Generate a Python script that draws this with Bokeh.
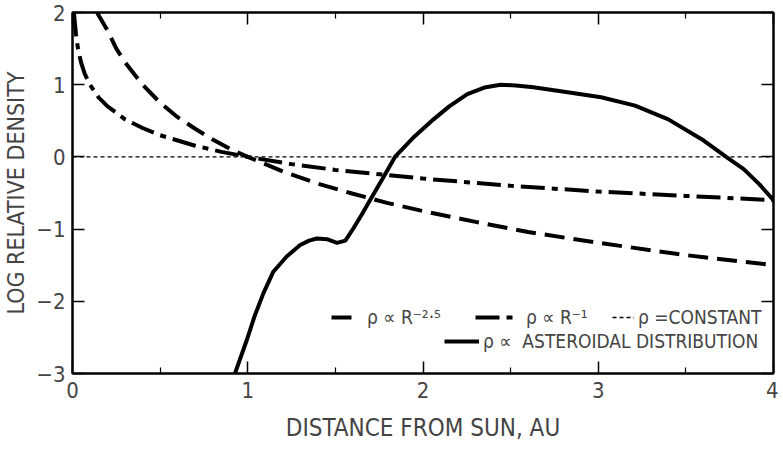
from bokeh.plotting import figure
from bokeh.models import LinearAxis, Legend, LegendItem, Range1d, FixedTicker
from bokeh.embed import file_html
from bokeh.resources import INLINE

# ---- data ----
x_ticks = [0, 1, 2, 3, 4]
x_tick_labels = ["0", "1", "2", "3", "4"]
x_minor = [0.5, 1.5, 2.5, 3.5]
y_ticks = [-3, -2, -1, 0, 1, 2]
y_tick_labels = ["\u22123", "\u22122", "\u22121", "0", "1", "2"]

r25_x = [0.14, 0.2, 0.25, 0.3, 0.4, 0.5, 0.6, 0.7, 0.8, 0.9, 1.0, 1.2, 1.4, 1.6, 1.8,
         2.0, 2.3, 2.6, 3.0, 3.5, 4.0]
r25_y = [2.0, 1.75, 1.5, 1.31, 1.0, 0.75, 0.55, 0.39, 0.24, 0.11, 0.0, -0.2, -0.37, -0.51,
         -0.64, -0.75, -0.9, -1.04, -1.19, -1.36, -1.5]

r1_x = [0.008, 0.015, 0.02, 0.03, 0.04, 0.05, 0.07, 0.1, 0.15, 0.2, 0.3, 0.4, 0.5, 0.7,
        0.85, 1.0, 1.25, 1.5, 2.0, 2.5, 3.0, 3.5, 4.0]
r1_y = [2.0, 1.82, 1.7, 1.52, 1.4, 1.3, 1.15, 1.0, 0.82, 0.7, 0.52, 0.4, 0.3, 0.155,
        0.07, 0.0, -0.1, -0.18, -0.3, -0.4, -0.48, -0.54, -0.6]

const_x = [0.0, 4.0]
const_y = [0.0, 0.0]

ast_x = [0.927, 0.994, 1.04, 1.089, 1.146, 1.222, 1.299, 1.35, 1.394, 1.452, 1.509, 1.557,
         1.604, 1.65, 1.70, 1.77, 1.84, 1.95, 2.06, 2.15, 2.253, 2.35, 2.443, 2.53, 2.63,
         2.825, 3.016, 3.21, 3.40, 3.59, 3.73, 3.83, 3.92, 4.0]
ast_y = [-3.0, -2.54, -2.2, -1.89, -1.59, -1.38, -1.22, -1.16, -1.13, -1.14, -1.19, -1.16,
         -0.985, -0.8, -0.59, -0.3, 0.0, 0.28, 0.52, 0.7, 0.87, 0.96, 1.0, 0.99, 0.965,
         0.895, 0.826, 0.71, 0.52, 0.245, 0.0, -0.17, -0.38, -0.6]

FONT = "'DejaVu Sans Condensed', 'Liberation Sans', sans-serif"

p = figure(width=778, height=447, x_range=Range1d(0, 4), y_range=Range1d(-3, 2),
           output_backend="svg", toolbar_location=None,
           min_border_left=71, min_border_right=5, min_border_top=12, min_border_bottom=74)
p.xgrid.visible = False
p.ygrid.visible = False
p.outline_line_color = "black"
p.outline_line_width = 2
p.background_fill_color = "white"

def style_axis(ax):
    ax.axis_line_width = 2
    ax.major_tick_in = 12
    ax.major_tick_out = 0
    ax.minor_tick_in = 6
    ax.minor_tick_out = 0
    ax.major_tick_line_width = 1.5
    ax.minor_tick_line_width = 1.2

xa = p.xaxis[0]
xa.ticker = FixedTicker(ticks=x_ticks, minor_ticks=x_minor)
xa.major_label_overrides = {t: l for t, l in zip(x_ticks, x_tick_labels)}
style_axis(xa)
xa.major_label_text_font = FONT
xa.major_label_text_font_size = "22px"
xa.major_label_standoff = 8
xa.axis_label = "DISTANCE FROM SUN, AU"
xa.axis_label_text_font = FONT
xa.axis_label_text_font_size = "24px"
xa.axis_label_text_font_style = "normal"
xa.axis_label_standoff = 13

ya = p.yaxis[0]
ya.ticker = FixedTicker(ticks=y_ticks, minor_ticks=[])
ya.major_label_overrides = {t: l for t, l in zip(y_ticks, y_tick_labels)}
style_axis(ya)
ya.major_label_text_font = FONT
ya.major_label_text_font_size = "22px"
ya.major_label_standoff = 7
ya.axis_label = "LOG RELATIVE DENSITY"
ya.axis_label_text_font = FONT
ya.axis_label_text_font_size = "23px"
ya.axis_label_text_font_style = "normal"
ya.axis_label_standoff = 4

top = LinearAxis(ticker=FixedTicker(ticks=x_ticks, minor_ticks=x_minor),
                 major_label_text_font_size="0px", major_label_standoff=0)
style_axis(top)
p.add_layout(top, "above")
right = LinearAxis(ticker=FixedTicker(ticks=y_ticks, minor_ticks=[]),
                   major_label_text_font_size="0px", major_label_standoff=0)
style_axis(right)
p.add_layout(right, "right")

r_const = p.line(const_x, const_y, line_color="black", line_width=1.3, line_dash="4 3")
r_r1 = p.line(r1_x, r1_y, line_color="black", line_width=4, line_dash="24 7 6 7")
r_r25 = p.line(r25_x, r25_y, line_color="black", line_width=4, line_dash="20 9")
r_ast = p.line(ast_x, ast_y, line_color="black", line_width=4)

def make_legend(label, rend, loc, gw, standoff):
    lg = Legend(items=[LegendItem(label=label, renderers=[rend])], location=loc,
                padding=0, margin=0, spacing=0, glyph_width=gw, glyph_height=20,
                label_standoff=standoff, label_text_font=FONT, label_text_font_size="19px",
                border_line_alpha=0, background_fill_alpha=0)
    p.add_layout(lg, "center")

make_legend("\u03c1 \u221d R\u207b\u00b2\u00b7\u2075", r_r25, (259, 45), 28, 8)
make_legend("\u03c1 \u221d R\u207b\u00b9", r_r1, (403, 45), 44, 7)
make_legend("\u03c1 =CONSTANT", r_const, (540, 45), 22, 4)
make_legend("\u03c1 \u221d  ASTEROIDAL DISTRIBUTION", r_ast, (372, 21), 35, 4)

open("out.html", "w").write(file_html(p, INLINE))
